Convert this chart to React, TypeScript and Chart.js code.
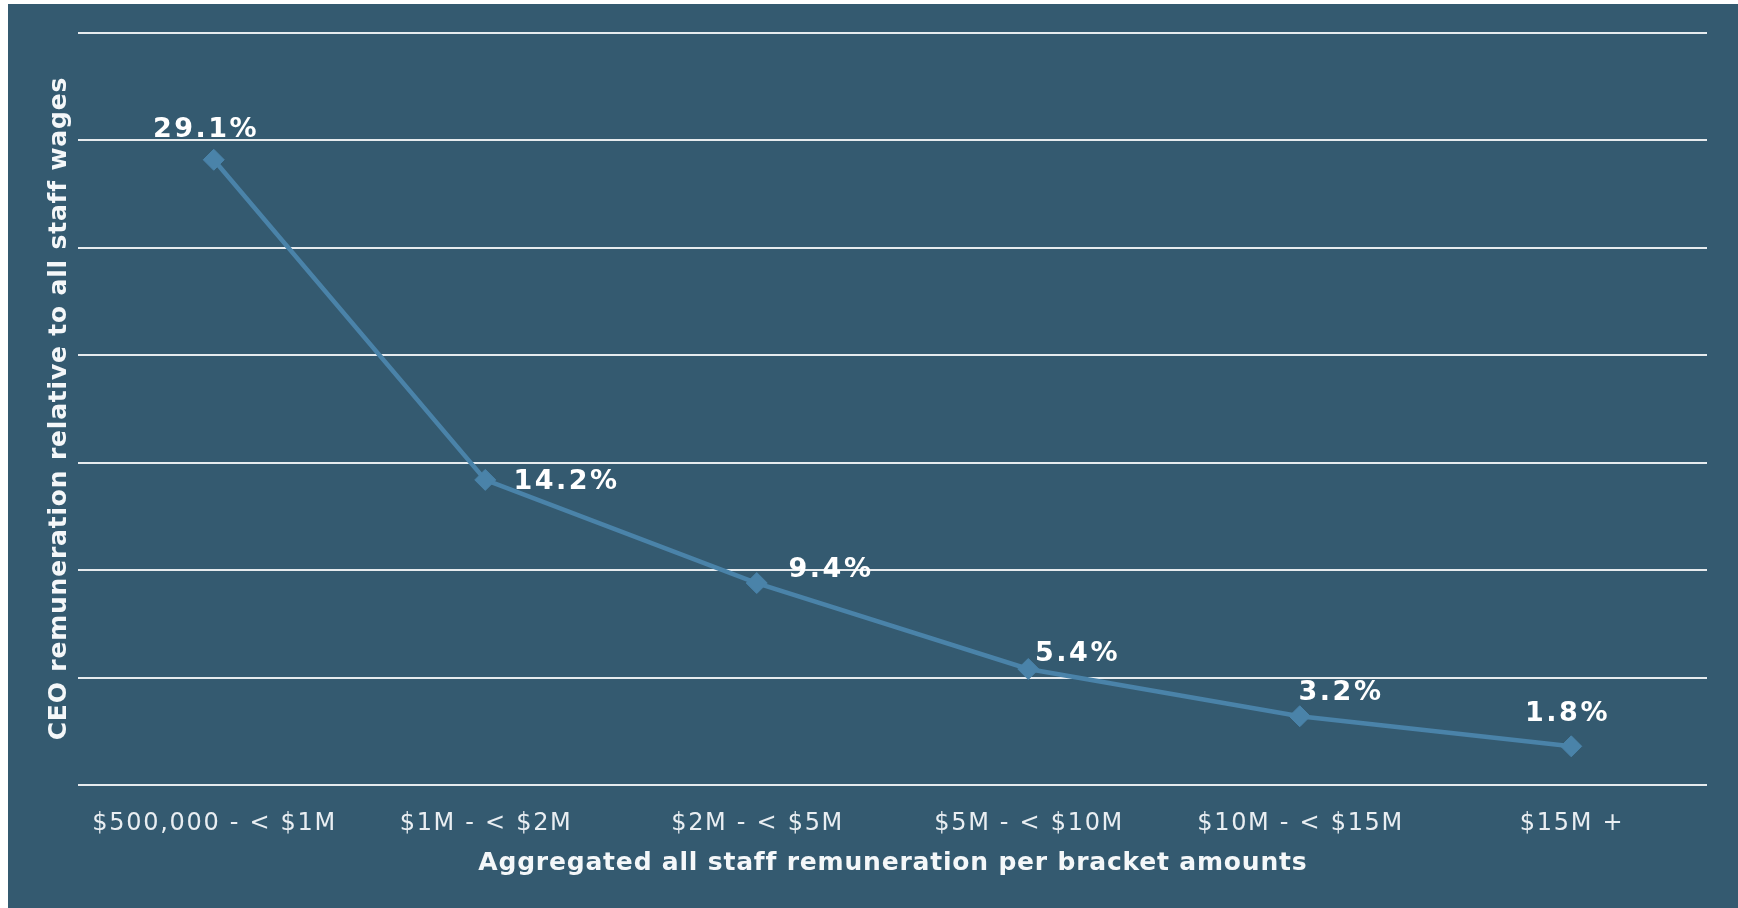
import React, { useEffect, useRef } from "react";
import { Chart, registerables } from "chart.js";

Chart.register(...registerables);

const categories = [
  "$500,000 - < $1M",
  "$1M - < $2M",
  "$2M - < $5M",
  "$5M - < $10M",
  "$10M - < $15M",
  "$15M +",
];
const ratioValues = [29.1, 14.2, 9.4, 5.4, 3.2, 1.8];
const valueLabels = ["29.1%", "14.2%", "9.4%", "5.4%", "3.2%", "1.8%"];
const yTicks = [0, 5, 10, 15, 20, 25, 30, 35];
const xTitle = "Aggregated all staff remuneration per bracket amounts";
const yTitle = "CEO remuneration relative to all staff wages";

// label placement offsets (style only), relative to each point
const labelOffsets: [number, number][] = [
  [-9, -30],
  [80, 2],
  [73, -13],
  [48, -15],
  [40, -23],
  [-5, -32],
];

const BG = "#345a70";
const LINE = "#4a83a9";

function drawText(
  ctx: CanvasRenderingContext2D,
  text: string,
  x: number,
  y: number,
  font: string,
  color: string,
  spacing: number,
  rotate = 0
) {
  ctx.save();
  ctx.font = font;
  (ctx as any).letterSpacing = spacing + "px";
  ctx.fillStyle = color;
  ctx.textAlign = "left";
  ctx.textBaseline = "middle";
  const w = ctx.measureText(text).width - spacing;
  ctx.translate(x, y);
  if (rotate) ctx.rotate(rotate);
  ctx.fillText(text, -w / 2, 0);
  ctx.restore();
}

const textPlugin = {
  id: "customText",
  afterDatasetsDraw(chart: any) {
    const ctx: CanvasRenderingContext2D = chart.ctx;
    const xs = chart.scales.x;
    const area = chart.chartArea;
    // tick labels
    categories.forEach((c, i) => {
      drawText(ctx, c, xs.getPixelForValue(i), area.bottom + 39, "normal 24px 'DejaVu Sans'", "#e9eef2", 1.7);
    });
    // axis titles
    drawText(ctx, xTitle, (area.left + area.right) / 2, area.bottom + 78, "bold 25px 'DejaVu Sans'", "#f4f7f9", 0.8);
    drawText(ctx, yTitle, 51, (area.top + area.bottom) / 2, "bold 25px 'DejaVu Sans'", "#f4f7f9", 0.8, -Math.PI / 2);
    // data labels
    const meta = chart.getDatasetMeta(0);
    meta.data.forEach((pt: any, i: number) => {
      const [dx, dy] = labelOffsets[i];
      drawText(ctx, valueLabels[i], pt.x + dx, pt.y + dy, "bold 27px 'DejaVu Sans'", "#ffffff", 2.5);
    });
  },
};

export default function App() {
  const ref = useRef<HTMLCanvasElement>(null);
  useEffect(() => {
    if (!ref.current) return;
    const chart = new Chart(ref.current, {
      type: "line",
      data: {
        labels: categories,
        datasets: [
          {
            data: ratioValues,
            borderColor: LINE,
            backgroundColor: LINE,
            borderWidth: 4.5,
            pointStyle: "rectRot",
            pointRadius: 10.5,
            pointBorderWidth: 1,
            pointBackgroundColor: LINE,
            pointBorderColor: LINE,
            tension: 0,
          },
        ],
      },
      plugins: [textPlugin],
      options: {
        animation: false,
        responsive: false,
        maintainAspectRatio: false,
        devicePixelRatio: 1,
        layout: { padding: { left: 0, right: 31, top: 29, bottom: 0 } },
        plugins: { legend: { display: false }, tooltip: { enabled: false }, title: { display: false } },
        scales: {
          x: {
            type: "category",
            offset: true,
            grid: { display: false, drawTicks: false },
            border: { display: false },
            ticks: { display: false },
            afterFit: (s: any) => {
              s.height = 123;
            },
          },
          y: {
            min: yTicks[0],
            max: yTicks[yTicks.length - 1],
            afterBuildTicks: (s: any) => {
              s.ticks = yTicks.map((v) => ({ value: v }));
            },
            grid: { color: "#e6ebee", lineWidth: 2, drawTicks: false },
            border: { display: false },
            ticks: { display: false },
            afterFit: (s: any) => {
              s.width = 70;
            },
          },
        },
      },
    });
    return () => chart.destroy();
  }, []);
  return (
    <div style={{ position: "absolute", left: 8, top: 4, width: 1730, height: 904, background: BG }}>
      <canvas ref={ref} width={1730} height={904} style={{ display: "block" }} />
    </div>
  );
}
